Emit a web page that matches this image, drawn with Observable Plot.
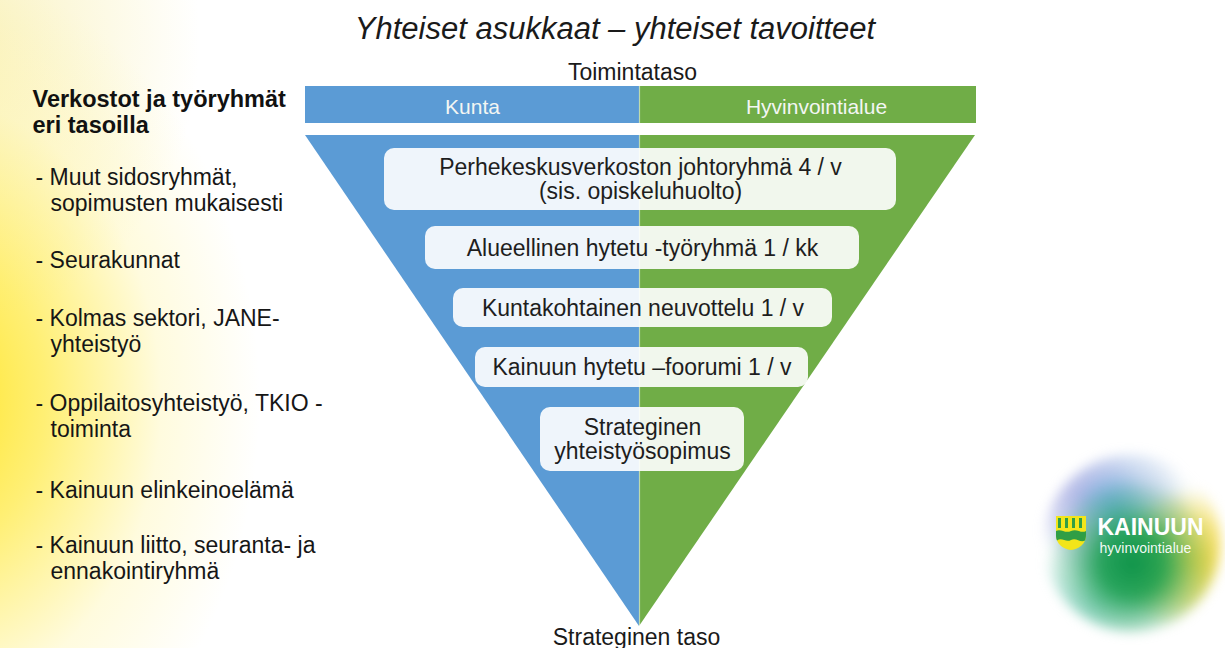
<!DOCTYPE html>
<html><head><meta charset="utf-8">
<script src="https://cdn.jsdelivr.net/npm/d3@7"></script>
<script src="https://cdn.jsdelivr.net/npm/@observablehq/plot@0.6"></script>
<style>
html,body{margin:0;padding:0;background:#fff;}
#stage{position:relative;width:1225px;height:648px;overflow:hidden;background:#fff;}
#glow{position:absolute;left:0;top:0;width:1225px;height:648px;
 background:
  radial-gradient(ellipse 330px 430px at -70px 400px, rgba(255,226,20,0.95) 0%, rgba(255,234,70,0.75) 35%, rgba(255,244,160,0.35) 70%, rgba(255,255,255,0) 100%),
  radial-gradient(ellipse 230px 280px at -30px 40px, rgba(248,238,170,0.75), rgba(255,255,255,0) 100%);}
#logo{position:absolute;left:1043px;top:454px;width:178px;height:178px;border-radius:50%;filter:blur(6px);
 background:
  radial-gradient(circle at 50% 62%, #0f944a 0%, rgba(25,158,78,0.9) 22%, rgba(80,180,120,0.45) 42%, rgba(255,255,255,0) 60%),
  radial-gradient(circle at 83% 60%, rgba(242,210,45,1) 0%, rgba(242,212,50,0.6) 22%, rgba(255,255,255,0) 40%),
  radial-gradient(circle at 40% 32%, rgba(70,160,215,0.9) 0%, rgba(140,170,225,0.5) 25%, rgba(255,255,255,0) 48%),
  radial-gradient(circle at 22% 24%, rgba(200,180,230,0.75) 0%, rgba(255,255,255,0) 30%),
  radial-gradient(circle at 30% 82%, rgba(150,220,220,0.85) 0%, rgba(255,255,255,0) 35%),
  radial-gradient(circle at 50% 50%, rgba(200,230,210,0.65) 0%, rgba(255,255,255,0) 70%);}
#shield{position:absolute;left:1055px;top:515px;}
#plot{position:absolute;left:0;top:0;}
</style></head>
<body>
<div id="stage">
  <div id="glow"></div>
  <div id="logo"></div>
  <svg id="shield" width="32" height="36" viewBox="0 0 32 36">
    <path d="M1 1 H31 V20 C31 29 24 34 16 35 C8 34 1 29 1 20 Z" fill="#f2e51a"/>
    <path d="M1 16 C6 13 10 19 16 16 C22 13 26 19 31 16 V20 C31 22 30.5 24 30 25.5 C25 28 21 22 16 25 C11 28 7 22 2 25.5 C1.3 24 1 22 1 20 Z" fill="#2f9e45"/>
    <path d="M3 3 h3 v10 h-3z M10 3 h3 v10 h-3z M17 3 h3 v10 h-3z M24 3 h3 v10 h-3z" fill="#2f9e45"/>
  </svg>
  <div id="plot"></div>
</div>
<script>
// ---- content ----
const subtitle = "Yhteiset asukkaat – yhteiset tavoitteet";
const topLabel = "Toimintataso";
const bottomLabel = "Strateginen taso";
const columns = ["Kunta", "Hyvinvointialue"];
const columnColors = ["#5b9bd5", "#70ad47"];
const levels = [
  "Perhekeskusverkoston johtoryhmä 4 / v\n(sis. opiskeluhuolto)",
  "Alueellinen hytetu -työryhmä 1 / kk",
  "Kuntakohtainen neuvottelu 1 / v",
  "Kainuun hytetu –foorumi 1 / v",
  "Strateginen\nyhteistyösopimus"
];
const sideTitle = ["Verkostot ja työryhmät", "eri tasoilla"];
const sideItems = [
  ["Muut sidosryhmät,", "sopimusten mukaisesti"],
  ["Seurakunnat"],
  ["Kolmas sektori, JANE-", "yhteistyö"],
  ["Oppilaitosyhteistyö, TKIO -", "toiminta"],
  ["Kainuun elinkeinoelämä"],
  ["Kainuun liitto, seuranta- ja", "ennakointiryhmä"]
];
const logoName = "KAINUUN";
const logoSub = "hyvinvointialue";

// ---- layout (pixels) ----
const W = 1225, H = 648;
const headerBand = {y1: 86, y2: 123, left: 305, mid: 639, right: 976};
const headerTextX = [472, 816];
const funnelTop = 135, funnelApex = 626;
const boxLayout = [
  {x1: 384, x2: 896, y1: 148, y2: 210},
  {x1: 425, x2: 859, y1: 226, y2: 269},
  {x1: 453, x2: 832, y1: 288, y2: 327},
  {x1: 475, x2: 808, y1: 347, y2: 387},
  {x1: 540, x2: 744, y1: 407, y2: 471}
];
const sideBaselines = [184, 267, 325, 410, 497, 552];
const lineGap = 26.5;
const font = "Liberation Sans, Arial, Helvetica, sans-serif";

const headerCells = columns.map((name, i) => ({
  name, color: columnColors[i], tx: headerTextX[i],
  x1: i === 0 ? headerBand.left : headerBand.mid,
  x2: i === 0 ? headerBand.mid : headerBand.right
}));
const funnel = [
  {y: funnelTop, left: headerBand.left, mid: headerBand.mid, right: headerBand.right - 1},
  {y: funnelApex, left: headerBand.mid, mid: headerBand.mid, right: headerBand.mid}
];
const boxes = levels.map((text, i) => ({text, ...boxLayout[i],
  cx: (boxLayout[i].x1 + boxLayout[i].x2) / 2, cy: (boxLayout[i].y1 + boxLayout[i].y2) / 2}));
const sideLines = [];
sideItems.forEach((lines, i) => lines.forEach((t, j) => sideLines.push({
  text: j === 0 ? "- " + t : t, x: j === 0 ? 35 : 50, y: sideBaselines[i] + j * lineGap
})));
const titleLines = sideTitle.map((t, j) => ({text: t, x: 32, y: 106 + j * 26}));

const chart = Plot.plot({
  width: W, height: H,
  margin: 0,
  x: {domain: [0, W], range: [0, W], axis: null},
  y: {domain: [0, H], range: [0, H], axis: null},
  color: {type: "identity"},
  style: {background: "transparent", fontFamily: font},
  marks: [
    Plot.text([subtitle], {x: W / 2 + 2, y: 38, text: d => d, fontSize: 31, fontStyle: "italic", lineAnchor: "bottom", fill: "#1a1a1a", fontFamily: font}),
    Plot.text([topLabel], {x: headerBand.mid - 7, y: 79, text: d => d, fontSize: 23, lineAnchor: "bottom", fill: "#1a1a1a", fontFamily: font}),
    Plot.rect(headerCells, {x1: "x1", x2: "x2", y1: headerBand.y1, y2: headerBand.y2, fill: "color"}),
    Plot.text(headerCells, {x: "tx", y: 113, text: "name", fontSize: 21, lineAnchor: "bottom", fill: "#f3f6f3", fontFamily: font}),
    Plot.areaX(funnel, {y: "y", x1: "left", x2: "mid", fill: columnColors[0]}),
    Plot.areaX(funnel, {y: "y", x1: "mid", x2: "right", fill: columnColors[1]}),
    Plot.ruleX([headerBand.mid], {y1: headerBand.y1, y2: funnelApex, stroke: "#ffffff", strokeOpacity: 0.55, strokeWidth: 1.2}),
    Plot.rect(boxes, {x1: "x1", x2: "x2", y1: "y1", y2: "y2", rx: 10, fill: "#ffffff", fillOpacity: 0.9}),
    Plot.text(boxes, {x: "cx", y: "cy", text: "text", fontSize: 23, lineHeight: 1.05, fill: "#1e1e1e", fontFamily: font}),
    Plot.text([bottomLabel], {x: headerBand.mid - 3, y: 644, text: d => d, fontSize: 23, lineAnchor: "bottom", fill: "#1a1a1a", fontFamily: font}),
    Plot.text(titleLines, {x: "x", y: "y", text: "text", fontSize: 23.5, fontWeight: "bold", textAnchor: "start", lineAnchor: "bottom", fill: "#111", fontFamily: font}),
    Plot.text(sideLines, {x: "x", y: "y", text: "text", fontSize: 23, textAnchor: "start", lineAnchor: "bottom", fill: "#161616", fontFamily: font}),
    Plot.text([logoName], {x: 1097, y: 534, text: d => d, fontSize: 23, fontWeight: "bold", textAnchor: "start", lineAnchor: "bottom", fill: "#ffffff", fontFamily: font}),
    Plot.text([logoSub], {x: 1099, y: 552, text: d => d, fontSize: 14, textAnchor: "start", lineAnchor: "bottom", fill: "#ffffff", fillOpacity: 0.95, fontFamily: font})
  ]
});
document.getElementById("plot").appendChild(chart);
</script>
</body></html>
